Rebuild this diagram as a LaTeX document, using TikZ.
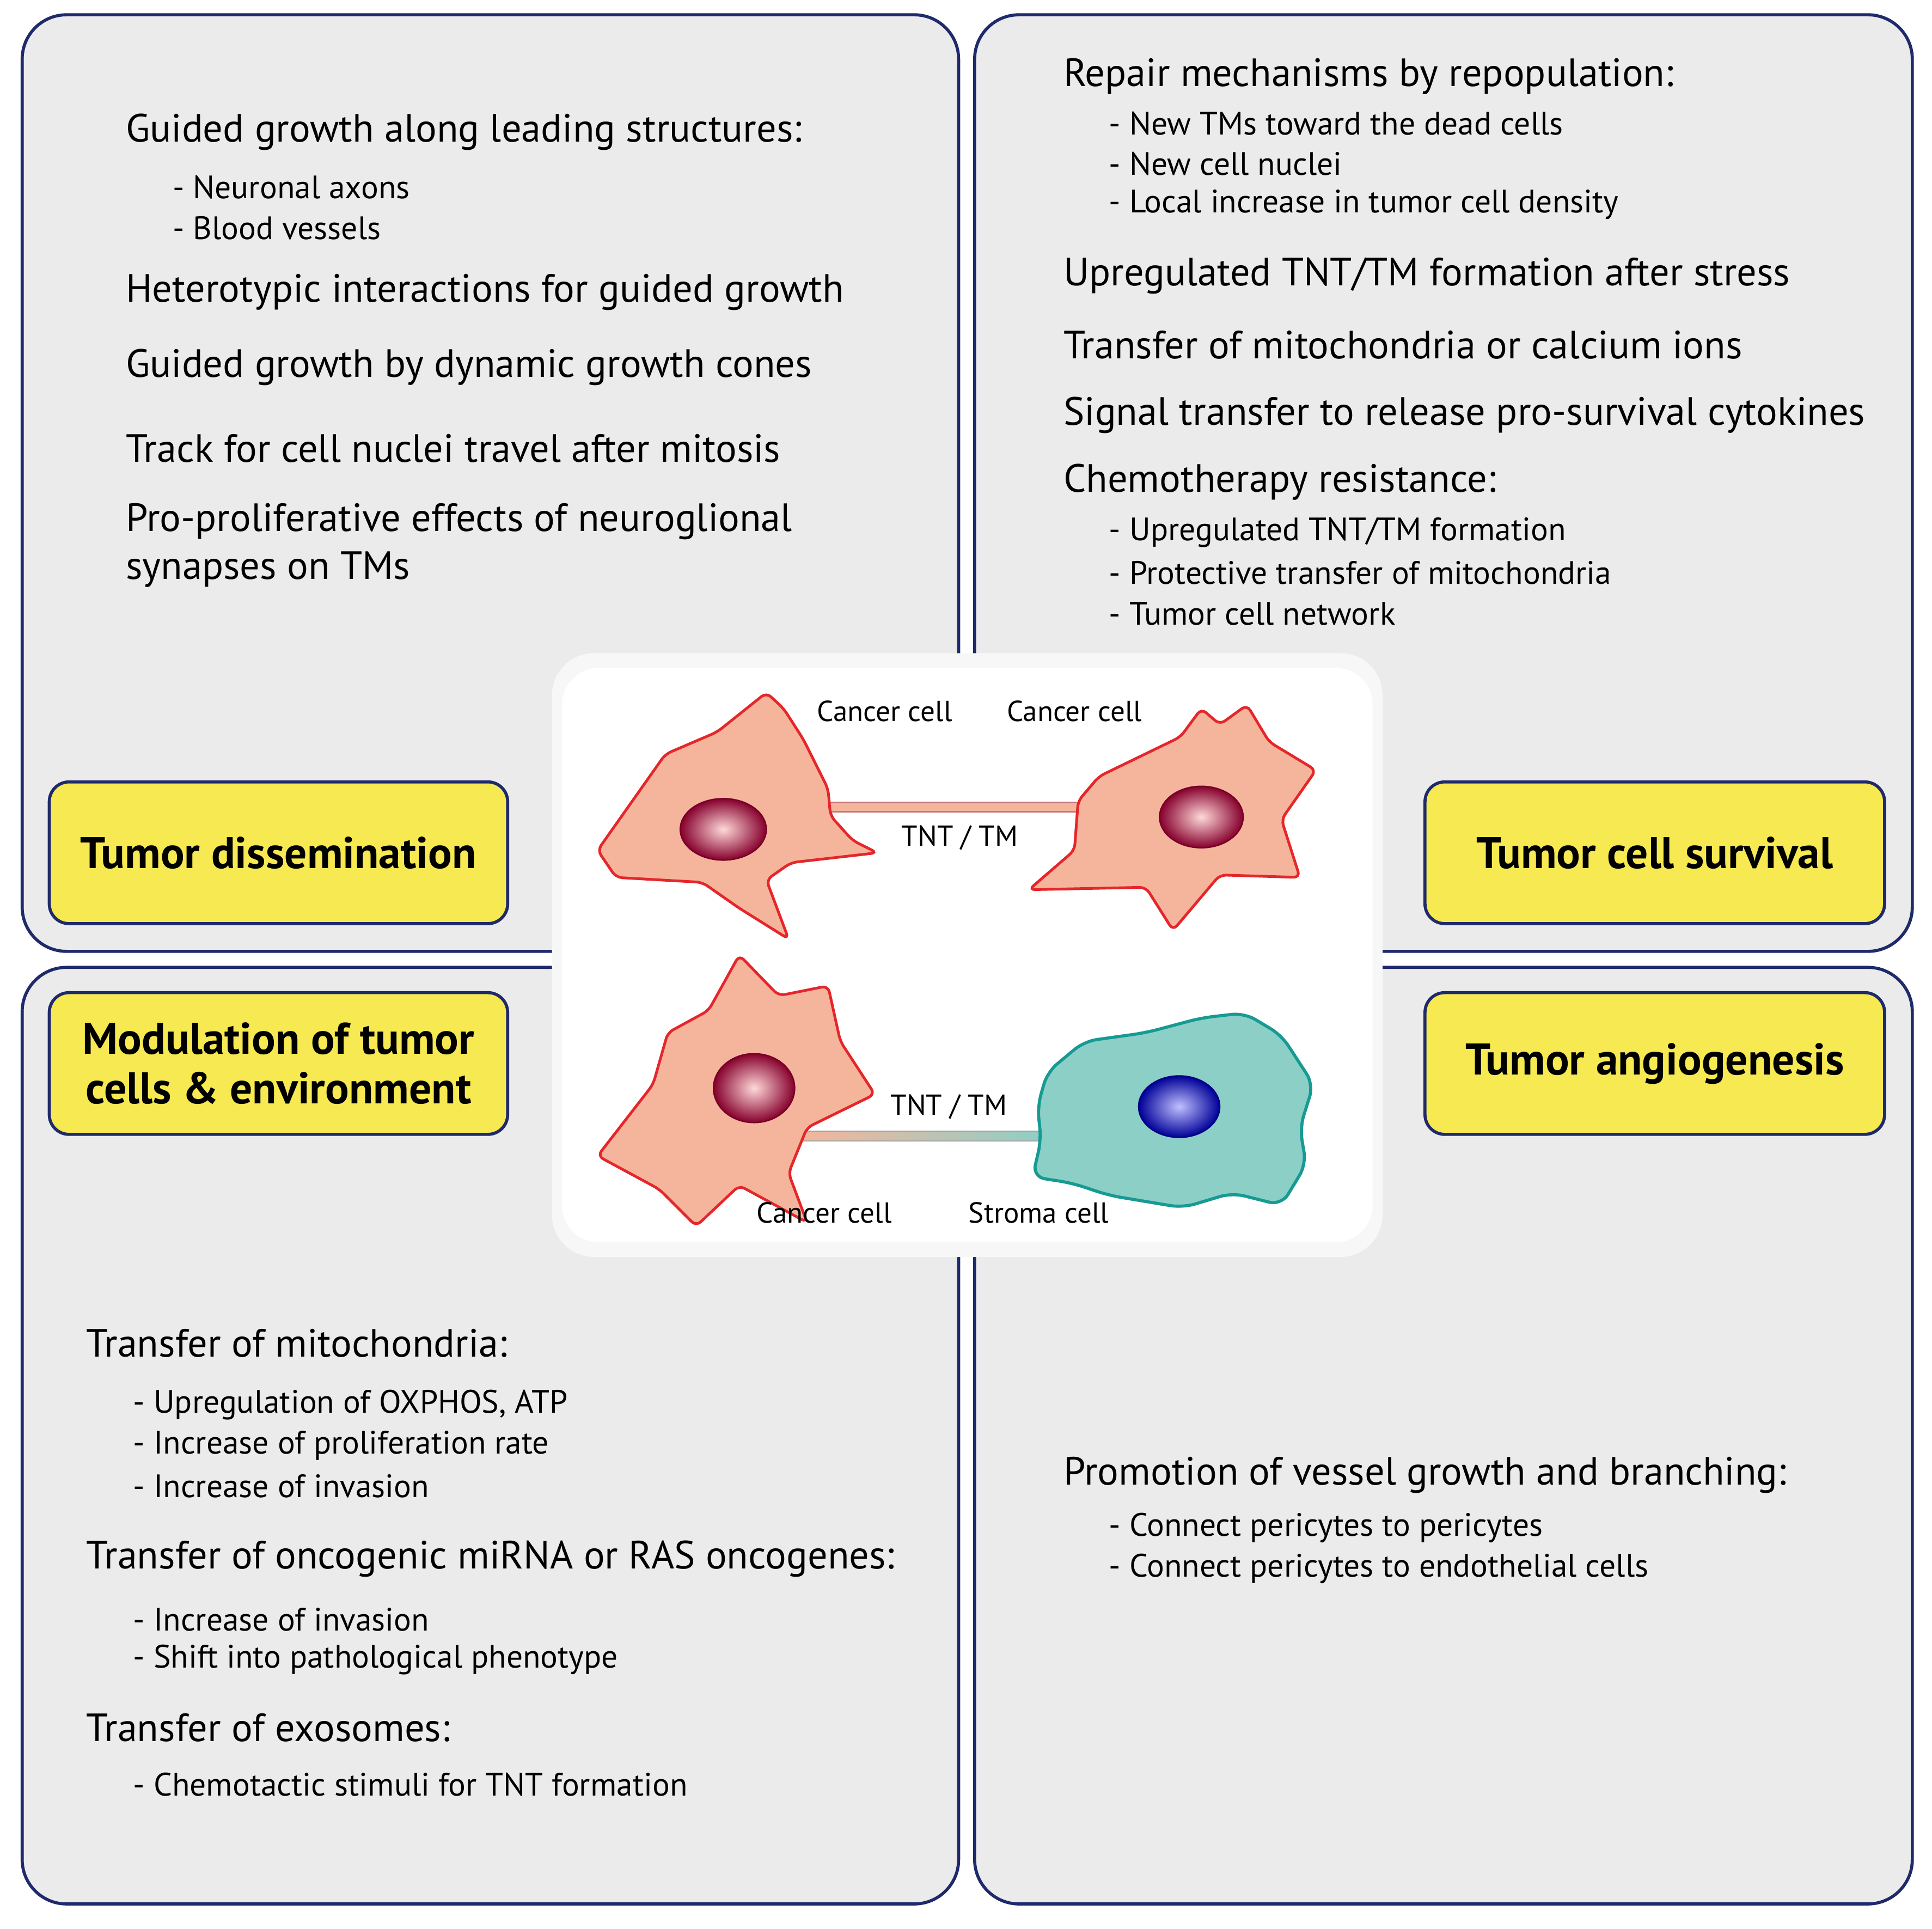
\documentclass[tikz,border=0pt]{standalone}
\usepackage{fontspec}
\setmainfont{PT Sans}
\begin{document}
\begin{tikzpicture}[x=1pt,y=-1pt,
 panel/.style={draw=navy,line width=2.5pt,fill=panelgrey,rounded corners=36pt},
 ybox/.style={draw=navy,line width=2.5pt,fill=yel,rounded corners=16pt},
 ylab/.style={font=\fontsize{36}{40}\selectfont\bfseries,align=center},
 main/.style={anchor=west,inner sep=0,font=\fontsize{32}{36}\selectfont},
 sub/.style={anchor=west,inner sep=0,font=\fontsize{26.3}{30}\selectfont},
 lab/.style={inner sep=0,font=\fontsize{23.5}{26}\selectfont},
 ccell/.style={draw=cred,line width=2.2pt,fill=csalmon,rounded corners=5pt},
]
\definecolor{navy}{HTML}{1F2A6B}
\definecolor{panelgrey}{HTML}{EBEBEC}
\definecolor{yel}{HTML}{F6E951}
\definecolor{cred}{HTML}{E5262A}
\definecolor{csalmon}{HTML}{F5B59C}
\definecolor{teal1}{HTML}{8CCFC6}
\definecolor{teal2}{HTML}{169A93}
\useasboundingbox (0,0) rectangle (1568,1565);
\fill[white] (0,0) rectangle (1568,1565);
% panels
\path[panel] (18,12) rectangle (778,772);
\path[panel] (791,12) rectangle (1552,772);
\path[panel] (18,785) rectangle (778,1545);
\path[panel] (791,785) rectangle (1552,1545);
% centre white area
\fill[white!60!panelgrey,rounded corners=34pt] (448,530) rectangle (1122,1020);
\fill[white,rounded corners=30pt] (456,542) rectangle (1114,1008);
% yellow boxes
\node[ybox,minimum width=372pt,minimum height=115pt] (yb1) at (226,692) {};
\node[ylab] (t1) at (yb1) {Tumor dissemination};
\node[ybox,minimum width=373pt,minimum height=115pt] (yb2) at (1343,692) {};
\node[ylab] (t2) at (yb2) {Tumor cell survival};
\node[ybox,minimum width=372pt,minimum height=115pt] (yb3) at (226,863) {};
\node[ylab] (t3) at (yb3) {Modulation of tumor\\cells \& environment};
\node[ybox,minimum width=373pt,minimum height=115pt] (yb4) at (1343,863) {};
\node[ylab] (t4) at (yb4) {Tumor angiogenesis};
% TL text
\node[main] (a1) at (102,107) {Guided growth along leading structures:};
\node[sub] (a2) at (140,152) {- Neuronal axons};
\node[sub] (a3) at (140,185) {- Blood vessels};
\node[main] (a4) at (102,237) {Heterotypic interactions for guided growth};
\node[main] (a5) at (102,298) {Guided growth by dynamic growth cones};
\node[main] (a6) at (102,364) {Track for cell nuclei travel after mitosis};
\node[main] (a7) at (102,423) {Pro-proliferative effects of neuroglional};
\node[main] (a8) at (102,462) {synapses on TMs};
% TR text
\node[main] (b1) at (863,62) {Repair mechanisms by repopulation:};
\node[sub] (b2) at (900,100) {- New TMs toward the dead cells};
\node[sub] (b3) at (900,133) {- New cell nuclei};
\node[sub] (b4) at (900,166) {- Local increase in tumor cell density};
\node[main] (b5) at (863,224) {Upregulated TNT/TM formation after stress};
\node[main] (b6) at (863,280) {Transfer of mitochondria or calcium ions};
\node[main] (b7) at (863,337) {Signal transfer to release pro-survival cytokines};
\node[main] (b8) at (863,391) {Chemotherapy resistance:};
\node[sub] (b9) at (900,432) {- Upregulated TNT/TM formation};
\node[sub] (b10) at (900,465) {- Protective transfer of mitochondria};
\node[sub] (b11) at (900,498) {- Tumor cell network};
% BL text
\node[main] (c1) at (70,1090) {Transfer of mitochondria:};
\node[sub] (c2) at (108,1140) {- Upregulation of OXPHOS, ATP};
\node[sub] (c3) at (108,1173) {- Increase of proliferation rate};
\node[sub] (c4) at (108,1206) {- Increase of invasion};
\node[main] (c5) at (70,1265) {Transfer of oncogenic miRNA or RAS oncogenes:};
\node[sub] (c6) at (108,1314) {- Increase of invasion};
\node[sub] (c7) at (108,1347) {- Shift into pathological phenotype};
\node[main] (c8) at (70,1402) {Transfer of exosomes:};
\node[sub] (c9) at (108,1448) {- Chemotactic stimuli for TNT formation};
% BR text
\node[main] (d1) at (863,1197) {Promotion of vessel growth and branching:};
\node[sub] (d2) at (900,1240) {- Connect pericytes to pericytes};
\node[sub] (d3) at (900,1273) {- Connect pericytes to endothelial cells};
% TNT connectors
\coordinate (p1) at (666,655); \coordinate (p2) at (878,655);
\draw[line width=9pt,draw=cred!70!black!60] (p1) -- (p2);
\draw[line width=6pt,draw=csalmon] (p1) -- (p2);
\coordinate (q1) at (652,922); \coordinate (q2) at (852,922);
\draw[line width=9pt,draw=gray!70] (q1) -- (q2);
\shade[left color=csalmon,right color=teal1] (652,919) rectangle (852,925);
% cells
\draw[ccell] (485,690) -- (540,612) -- (582,594) -- (622,562) -- (636,575) -- (652,600) -- (672,640) -- (674,662) -- (692,682) -- (712,692) -- (642,700) -- (622,714) -- (640,762) -- (600,737) -- (570,716) -- (500,712) -- cycle;
\draw[ccell] (835,722) -- (872,690) -- (875,650) -- (892,630) -- (958,598) -- (975,575) -- (990,588) -- (1012,572) -- (1030,602) -- (1068,625) -- (1040,665) -- (1055,712) -- (990,710) -- (952,755) -- (930,720) -- cycle;
\draw[ccell] (485,938) -- (530,880) -- (542,838) -- (575,820) -- (600,775) -- (632,808) -- (672,800) -- (682,845) -- (710,888) -- (655,915) -- (640,952) -- (655,992) -- (600,962) -- (565,995) -- (535,965) -- cycle;
\draw[draw=teal2,line width=2.5pt,fill=teal1,rounded corners=10pt] (842,898) -- (850,870) -- (880,845) -- (930,838) -- (975,826) -- (1010,822) -- (1040,840) -- (1066,880) -- (1055,915) -- (1060,945) -- (1040,978) -- (1000,968) -- (960,980) -- (900,970) -- (870,960) -- (838,955) -- (845,925) -- cycle;
% nuclei
\shade[inner color=pink!60!white,outer color=purple!70!black] (587,673) ellipse (35 and 25);
\draw[purple!60!black,line width=1pt] (587,673) ellipse (35 and 25);
\shade[inner color=pink!60!white,outer color=purple!70!black] (975,663) ellipse (34 and 25);
\draw[purple!60!black,line width=1pt] (975,663) ellipse (34 and 25);
\shade[inner color=pink!60!white,outer color=purple!70!black] (612,883) ellipse (33 and 28);
\draw[purple!60!black,line width=1pt] (612,883) ellipse (33 and 28);
\shade[inner color=blue!25!white,outer color=blue!60!black] (957,898) ellipse (33 and 25);
\draw[blue!50!black,line width=1pt] (957,898) ellipse (33 and 25);
% labels
\node[lab] (l1) at (718,577) {Cancer cell};
\node[lab] (l2) at (872,577) {Cancer cell};
\node[lab] (l3) at (779,680) {TNT / TM};
\node[lab] (l4) at (770,898) {TNT / TM};
\node[lab] (l5) at (669,984) {Cancer cell};
\node[lab] (l6) at (843,984) {Stroma cell};
\end{tikzpicture}
\end{document}
